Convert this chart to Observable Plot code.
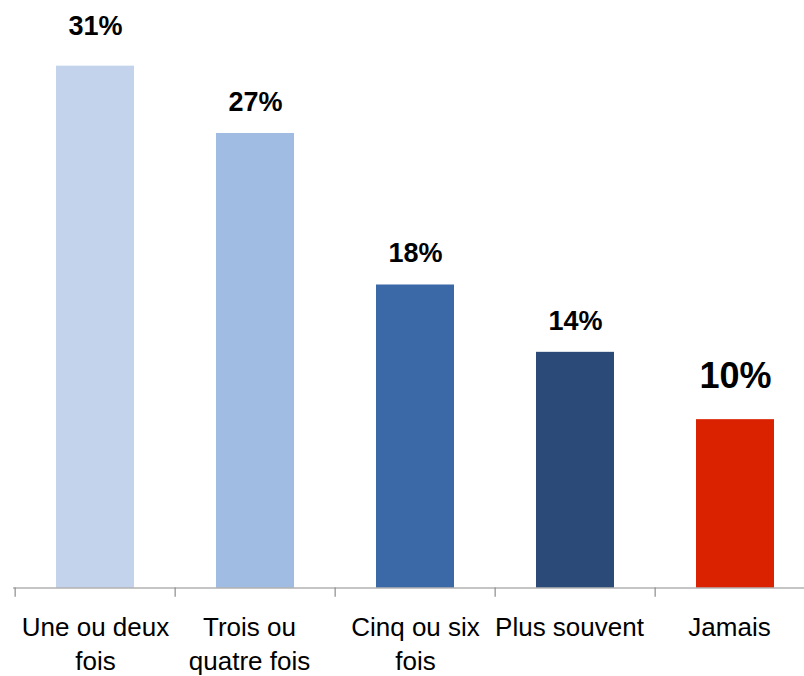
<!DOCTYPE html>
<html>
<head>
<meta charset="utf-8">
<script src="https://cdn.jsdelivr.net/npm/d3@7"></script>
<script src="https://cdn.jsdelivr.net/npm/@observablehq/plot@0.6"></script>
<style>
  html, body { margin: 0; padding: 0; background: #ffffff; overflow: hidden; }
  #chart svg { display: block; }
</style>
</head>
<body>
<div id="chart"></div>
<script>
const categories = ["Une ou deux fois", "Trois ou quatre fois", "Cinq ou six fois", "Plus souvent", "Jamais"];
const categoryLabels = ["Une ou deux\nfois", "Trois ou\nquatre fois", "Cinq ou six\nfois", "Plus souvent", "Jamais"];
const values = [31, 27, 18, 14, 10];
const valueLabels = ["31%", "27%", "18%", "14%", "10%"];
const colors = ["#c3d3eb", "#a1bce3", "#3b69a8", "#2c4a77", "#da2200"];

const data = categories.map((c, i) => ({
  cat: c, label: categoryLabels[i], value: values[i], vlabel: valueLabels[i], color: colors[i]
}));

const font = "'Liberation Sans', Arial, sans-serif";
const step = (816.5 - 13) / 5;
const vStyle = { x: "cat", y: "value", text: "vlabel", lineAnchor: "bottom", fontWeight: "bold", fill: "#000" };
const cStyle = { x: "cat", y: 0, text: "label", dy: 24, lineAnchor: "top", fontSize: 26, lineHeight: 1.31, fill: "#000" };

const chart = Plot.plot({
  width: 804,
  height: 676,
  marginTop: 0,
  marginLeft: 13,
  marginRight: 0,
  marginBottom: 88.5,
  style: { fontFamily: font, color: "#000", background: "#fff", overflow: "visible" },
  x: { type: "band", domain: categories, range: [13, 816.5], paddingInner: 0.515, paddingOuter: 0.2575, axis: null },
  y: { domain: [0, 34.9], axis: null },
  marks: [
    Plot.barY(data, { x: "cat", y: "value", fill: "color" }),
    Plot.ruleY([0], { stroke: "#8c8c8c", strokeWidth: 1.2 }),
    Plot.ruleX(data, { x: "cat", dx: -step / 2, y1: 0, y2: -0.55, stroke: "#8c8c8c", strokeWidth: 1.2 }),
    Plot.text(data.slice(0, 1), { ...vStyle, dy: -31, fontSize: 27 }),
    Plot.text(data.slice(1, 4), { ...vStyle, dy: -22.5, fontSize: 27 }),
    Plot.text(data.slice(4), { ...vStyle, dy: -32, fontSize: 36 }),
    Plot.text([data[0], data[2]], { ...cStyle }),
    Plot.text([data[1], data[3], data[4]], { ...cStyle, dx: -6 })
  ]
});

document.getElementById("chart").appendChild(chart);
</script>
</body>
</html>
